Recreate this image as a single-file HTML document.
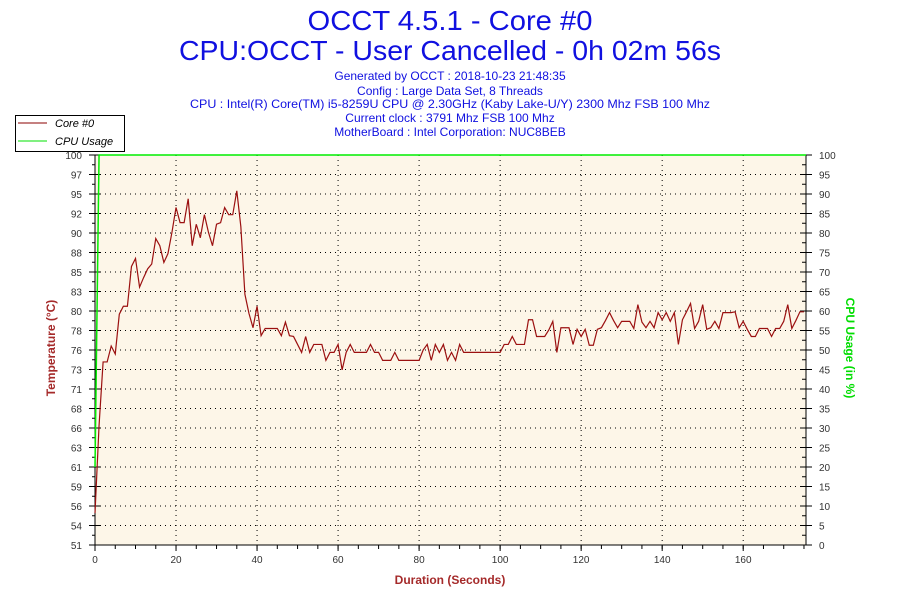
<!DOCTYPE html>
<html><head><meta charset="utf-8"><style>
body{margin:0;background:#fff;width:900px;height:600px;overflow:hidden;font-family:"Liberation Sans",sans-serif}
</style></head><body>
<svg id="chart" width="900" height="600" xmlns="http://www.w3.org/2000/svg" font-family="Liberation Sans, sans-serif">
<text x="450" y="30" text-anchor="middle" font-size="28" fill="#1010e0" textLength="285" lengthAdjust="spacingAndGlyphs">OCCT 4.5.1 - Core #0</text>
<text x="450" y="60" text-anchor="middle" font-size="28" fill="#1010e0" textLength="542" lengthAdjust="spacingAndGlyphs">CPU:OCCT - User Cancelled - 0h 02m 56s</text>
<g font-size="12" fill="#1010e0" text-anchor="middle">
<text x="450" y="80">Generated by OCCT : 2018-10-23 21:48:35</text>
<text x="450" y="95">Config : Large Data Set, 8 Threads</text>
<text x="450" y="108" textLength="520" lengthAdjust="spacingAndGlyphs">CPU : Intel(R) Core(TM) i5-8259U CPU @ 2.30GHz (Kaby Lake-U/Y) 2300 Mhz FSB 100 Mhz</text>
<text x="450" y="122">Current clock : 3791 Mhz FSB 100 Mhz</text>
<text x="450" y="136">MotherBoard : Intel Corporation: NUC8BEB</text>
</g>
<g>
<rect x="15.5" y="115.5" width="109" height="36" fill="#fff" stroke="#000"/>
<line x1="18" y1="123" x2="47" y2="123" stroke="#8b0000"/>
<text x="55" y="127" font-size="11" font-style="italic">Core #0</text>
<line x1="18" y1="141" x2="47" y2="141" stroke="#00e000"/>
<text x="55" y="145" font-size="11" font-style="italic">CPU Usage</text>
</g>
<rect x="95" y="155" width="711" height="390" fill="#fdf6e8"/>
<g id="grid"></g>
<g id="axes"></g>
<g id="series"></g>
<text transform="translate(55,348) rotate(-90)" text-anchor="middle" font-size="12" font-weight="bold" fill="#a52a2a">Temperature (°C)</text>
<text transform="translate(846,348) rotate(90)" text-anchor="middle" font-size="12" font-weight="bold" fill="#00dd00">CPU Usage (in %)</text>
<text x="450" y="584" text-anchor="middle" font-size="12" font-weight="bold" fill="#a52a2a">Duration (Seconds)</text>
</svg>
<script>
const tempLabels=["51","54","56","59","61","63","66","68","71","73","76","78","80","83","85","88","90","92","95","97","100"];
const xTicks=[0,20,40,60,80,100,120,140,160];
const cpuTicks=[0,5,10,15,20,25,30,35,40,45,50,55,60,65,70,75,80,85,90,95,100];
const temps=[55,66,74,74,76,75,80,81,81,86,87,83.4,84.6,85.7,86.3,89.5,88.6,86.5,87.6,90.3,93.4,91.5,91.5,94.5,88.6,91.3,89.6,92.5,90.3,88.6,91.3,91.5,93.4,92.5,92.5,95.5,91,82.5,80.1,78.3,81,77.3,78.2,78.2,78.2,78.2,77.3,79,77.3,77.2,76.2,
75.2,77.2,75.2,76.2,76.2,76.2,74.2,75.2,75.2,76.2,73,75.2,76.2,75.2,75.2,75.2,75.2,76.2,75.2,75.2,74.2,74.2,74.2,75.2,74.2,74.2,74.2,74.2,74.2,74.2,
75.5,76.2,74.2,76.2,75.2,76.2,74.2,75.2,74.2,76.2,75.2,75.2,75.2,75.2,75.2,75.2,75.2,75.2,75.2,75.2,
76.2,76.2,77.2,76.2,76.2,76.2,79.3,79.3,77.2,77.2,77.2,78,79.1,75.2,78.3,78.3,78.3,76.2,78.1,77.2,78.1,76.1,76.1,78.1,78.3,79.2,80.2,79.2,78.3,79.1,79.1,79.1,78.2,81.2,79,78.3,79.1,78.3,80.2,79.3,80.2,79.1,80.2,76.2,79.3,80.3,81.35,78.2,79.1,81.2,78.1,78.3,79.1,78.2,80.2,80.2,80.2,80.3,78.3,79.1,78.1,77.2,77.2,78.2,78.2,78.2,77.2,78.2,78.2,79.1,81.2,78.2,79.2,80.3,80.3];
const cpu=[20,100];
const X0=95,X1=806,XMAX=175.5,Y0=545,Y1=155,TMIN=51,TMAX=100;
const xs=s=>X0+(s/XMAX)*(X1-X0);
const yt=t=>Y0-(t-TMIN)/(TMAX-TMIN)*(Y0-Y1);
const yc=c=>Y0-c/100*(Y0-Y1);
const NS="http://www.w3.org/2000/svg";
function mk(tag,attrs,parent){const e=document.createElementNS(NS,tag);for(const k in attrs)e.setAttribute(k,attrs[k]);parent.appendChild(e);return e;}
const grid=document.getElementById('grid'),axes=document.getElementById('axes'),series=document.getElementById('series');
tempLabels.forEach((lab,i)=>{const y=Y0-i*(Y0-Y1)/(tempLabels.length-1);
 if(i>0&&i<tempLabels.length-1){const g=mk('line',{x1:X0,x2:X1,y1:y,y2:y,stroke:'#000','stroke-dasharray':'1 4'},grid);
 
 }
 mk('line',{x1:X0-6,x2:X0+6,y1:y,y2:y,stroke:'#000'},axes);
 if(i<tempLabels.length-1)mk('line',{x1:X0-3,x2:X0,y1:y-9.75,y2:y-9.75,stroke:'#000'},axes);
 const t=mk('text',{x:X0-13,y:y+4,'text-anchor':'end','font-size':'10',fill:'#333'},axes);t.textContent=lab;
 
 
});
cpuTicks.forEach((v,i)=>{const y=yc(v);
 mk('line',{x1:X1-6,x2:X1+6,y1:y,y2:y,stroke:'#000'},axes);
 if(i<cpuTicks.length-1)mk('line',{x1:X1-4,x2:X1,y1:yc(v+2.5),y2:yc(v+2.5),stroke:'#000'},axes);
 const t=mk('text',{x:X1+13,y:y+4,'font-size':'10',fill:'#333'},axes);t.textContent=v;
 
 
});
for(let s=0;s<=XMAX;s+=5){mk('line',{x1:xs(s),x2:xs(s),y1:Y0,y2:Y0+4,stroke:'#000'},axes);}
xTicks.forEach(v=>{const x=xs(v);
 if(v>0){const g=mk('line',{x1:x,x2:x,y1:Y1,y2:Y0,stroke:'#000','stroke-dasharray':'1 4'},grid);
 
 }
 mk('line',{x1:x,x2:x,y1:Y0,y2:Y0+6,stroke:'#000'},axes);
 const t=mk('text',{x:x,y:Y0+18,'text-anchor':'middle','font-size':'10',fill:'#333'},axes);t.textContent=v;
 
 
});
mk('line',{x1:X0,x2:X0,y1:Y1,y2:Y0,stroke:'#000'},axes);
mk('line',{x1:X1,x2:X1,y1:Y1,y2:Y0,stroke:'#000'},axes);
mk('line',{x1:X0,x2:X1,y1:Y0,y2:Y0,stroke:'#000'},axes);
let cp=cpu.map((v,i)=>xs(i)+','+yc(v));cp.push(xs(XMAX)+','+yc(cpu[cpu.length-1]));
const cl=mk('polyline',{points:cp.join(' '),fill:'none',stroke:'#00ee00','stroke-width':1.5},series);


const tl=mk('polyline',{points:temps.map((v,i)=>xs(i)+','+yt(v)).join(' '),fill:'none',stroke:'#9b1010','stroke-width':1.2},series);


</script>
</body></html>
